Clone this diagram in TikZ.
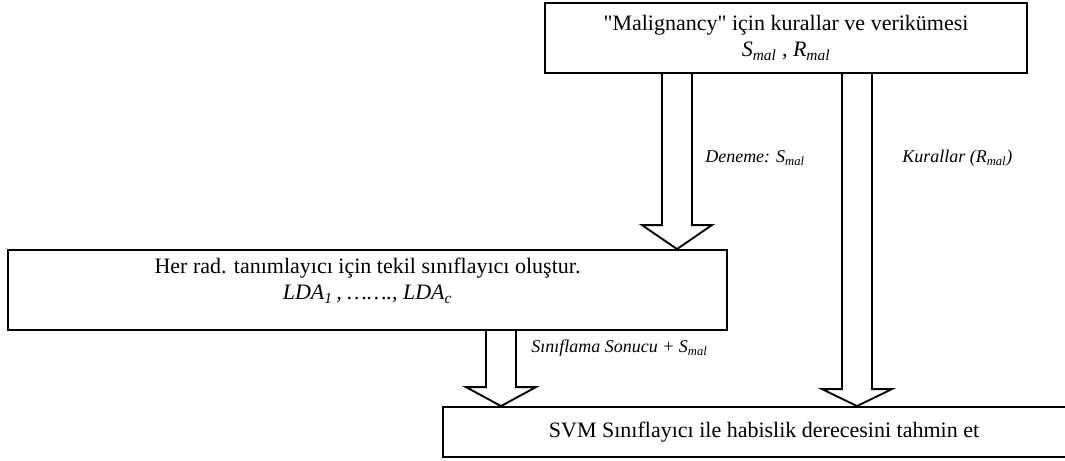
\documentclass[tikz,border=0pt]{standalone}
\usepackage{fontspec}
\setmainfont{Liberation Serif}[Ligatures=TeXOff]
\usetikzlibrary{calc}
\tikzset{
  box/.style={draw, line width=1.4pt, inner sep=0pt, align=center,
    font=\fontsize{16.5}{19.5}\selectfont},
  boxtext/.style={inner sep=0pt, align=center, font=\fontsize{16.5}{19.5}\selectfont},
  blockarrow/.style={draw, line width=1.4pt, line join=miter},
  lbl/.style={anchor=west, inner sep=0pt, font=\fontsize{13.5}{16}\selectfont\itshape},
}
% hollow block arrow: centre line, source node, target node, head depth
\newcommand\hollowarrow[4]{%
  \draw[blockarrow]
    ($(#2.south -| #1)+(-15,0)$) -- ($(#3.north -| #1)+(-15,-#4)$)
    -- ($(#3.north -| #1)+(-35,-#4)$) -- (#3.north -| #1)
    -- ($(#3.north -| #1)+(35,-#4)$) -- ($(#3.north -| #1)+(15,-#4)$)
    -- ($(#2.south -| #1)+(15,0)$);}
\begin{document}
\begin{tikzpicture}[x=0.75pt,y=-0.75pt]
  \useasboundingbox (0,0) rectangle (1065,461);

  % boxes
  \node[box, minimum width=361.5pt, minimum height=52.5pt] (rules) at (786,38)
    {"Malignancy" için kurallar ve verikümesi\\
     \textit{S\textsubscript{mal}} , \textit{R\textsubscript{mal}}};
  \node[box, minimum width=539.25pt, minimum height=60pt] (lda) at (367.5,290) {};
  \node[boxtext] (ldatext) at (367.5,281)
    {Her rad. tanımlayıcı için tekil sınıflayıcı oluştur.\\
     \textit{LDA\textsubscript{1}\,, ……., LDA\textsubscript{c}}};
  \node[box, minimum width=481.5pt, minimum height=37.5pt] (svm) at (764,432)
    {SVM Sınıflayıcı ile habislik derecesini tahmin et};

  % centre lines of the block arrows
  \coordinate (c1) at (677,0);
  \coordinate (c2) at (857,0);
  \coordinate (c3) at (501,0);

  \hollowarrow{c1}{rules}{lda}{24}
  \hollowarrow{c2}{rules}{svm}{17}
  \hollowarrow{c3}{lda}{svm}{19}

  % arrow labels
  \node[lbl] (l1) at (705,158) {Deneme: S\textsubscript{mal}};
  \node[lbl] (l2) at (902,158) {Kurallar (R\textsubscript{mal})};
  \node[lbl] (l3) at (531,348) {Sınıflama Sonucu + S\textsubscript{mal}};
\end{tikzpicture}
\end{document}
